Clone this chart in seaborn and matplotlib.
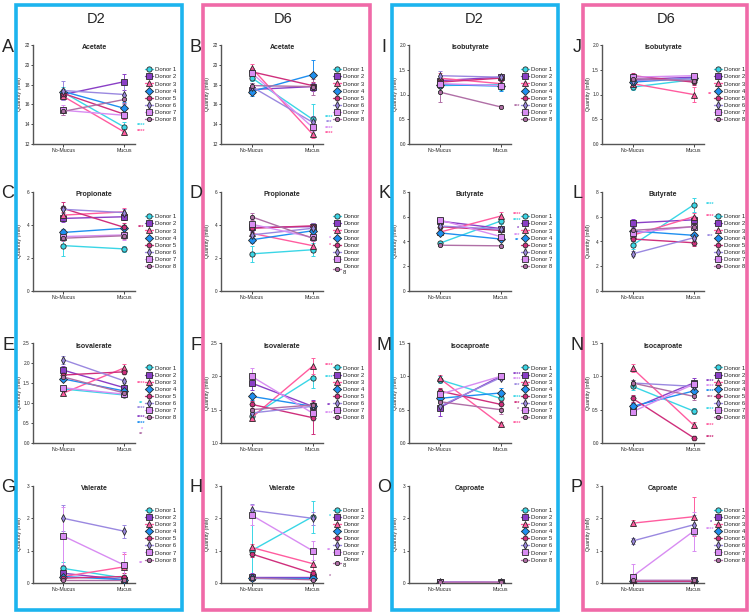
# ============================================================================================
# packages
# ============================================================================================
import pandas as pd
import numpy as np
import matplotlib.pyplot as plt
import seaborn as sns
from matplotlib.patches import Rectangle

# ============================================================================================
# data
# ============================================================================================
donors = ["Donor 1", "Donor 2", "Donor 3", "Donor 4", "Donor 5", "Donor 6", "Donor 7", "Donor 8"]
conditions = ["No-Mucus", "Mucus"]

# Acetate
acetate_d2_no = [17.2, 17.0, 16.8, 17.3, 17.1, 17.4, 15.4, 15.3]
acetate_d2_mu = [13.7, 18.3, 13.2, 15.6, 15.0, 17.0, 14.9, 16.5]
acetate_d2_no_err = [0.6, 0.5, 0.4, 0.3, 0.3, 1.0, 0.5, 0.4]
acetate_d2_mu_err = [0.5, 0.8, 0.3, 0.6, 0.5, 1.0, 0.3, 0.4]
acetate_d6_no = [18.7, 17.5, 19.7, 17.3, 19.3, 17.8, 19.2, 17.9]
acetate_d6_mu = [14.5, 17.8, 13.0, 19.0, 17.9, 14.2, 13.7, 17.8]
acetate_d6_no_err = [0.3, 0.4, 0.4, 0.5, 0.4, 0.4, 0.3, 0.3]
acetate_d6_mu_err = [1.5, 0.4, 0.4, 1.5, 0.4, 0.6, 0.4, 0.8]

# Propionate
propionate_d2_no = [2.75, 4.4, 4.6, 3.55, 5.0, 4.95, 3.3, 3.2]
propionate_d2_mu = [2.55, 4.5, 4.8, 3.8, 3.85, 4.75, 3.4, 3.35]
propionate_d2_no_err = [0.6, 0.2, 0.2, 0.2, 0.4, 0.2, 0.2, 0.2]
propionate_d2_mu_err = [0.2, 0.2, 0.2, 0.2, 0.3, 0.2, 0.3, 0.2]
propionate_d6_no = [2.25, 3.85, 3.5, 3.1, 3.8, 3.4, 4.05, 4.5]
propionate_d6_mu = [2.5, 3.9, 2.75, 3.65, 3.95, 3.8, 3.25, 3.2]
propionate_d6_no_err = [0.5, 0.2, 0.2, 0.2, 0.2, 0.2, 0.3, 0.2]
propionate_d6_mu_err = [0.4, 0.2, 0.4, 0.2, 0.2, 0.3, 0.2, 0.2]

# Isovalerate
isovalerate_d2_no = [1.35, 1.82, 1.25, 1.6, 1.7, 2.08, 1.38, 1.65]
isovalerate_d2_mu = [1.2, 1.38, 1.88, 1.3, 1.78, 1.55, 1.22, 1.25]
isovalerate_d2_no_err = [0.05, 0.1, 0.05, 0.05, 0.05, 0.1, 0.05, 0.05]
isovalerate_d2_mu_err = [0.05, 0.05, 0.1, 0.05, 0.05, 0.05, 0.05, 0.05]
isovalerate_d6_no = [1.4, 1.9, 1.38, 1.7, 1.58, 1.45, 2.0, 1.5]
isovalerate_d6_mu = [1.98, 1.55, 2.15, 1.55, 1.38, 1.55, 1.45, 1.57]
isovalerate_d6_no_err = [0.05, 0.1, 0.05, 0.05, 0.05, 0.05, 0.12, 0.05]
isovalerate_d6_mu_err = [0.15, 0.1, 0.12, 0.05, 0.25, 0.05, 0.05, 0.05]

# Valerate
valerate_d2_no = [0.45, 0.3, 0.2, 0.2, 0.15, 2.0, 1.45, 0.1]
valerate_d2_mu = [0.15, 0.1, 0.5, 0.1, 0.2, 1.6, 0.55, 0.1]
valerate_d2_no_err = [0.2, 0.1, 0.1, 0.1, 0.1, 0.4, 0.9, 0.1]
valerate_d2_mu_err = [0.1, 0.1, 0.4, 0.1, 0.1, 0.2, 0.4, 0.1]
valerate_d6_no = [1.0, 0.2, 1.1, 0.15, 0.9, 2.25, 2.1, 0.15]
valerate_d6_mu = [2.05, 0.2, 0.6, 0.15, 0.3, 2.0, 1.0, 0.1]
valerate_d6_no_err = [1.2, 0.1, 0.1, 0.1, 0.1, 0.2, 0.3, 0.1]
valerate_d6_mu_err = [0.5, 0.1, 0.3, 0.1, 0.1, 0.2, 0.3, 0.1]

# Isobutyrate
isobutyrate_d2_no = [1.18, 1.28, 1.33, 1.2, 1.25, 1.38, 1.22, 1.05]
isobutyrate_d2_mu = [1.2, 1.35, 1.22, 1.17, 1.33, 1.35, 1.18, 0.75]
isobutyrate_d2_no_err = [0.1, 0.05, 0.1, 0.05, 0.05, 0.1, 0.05, 0.2]
isobutyrate_d2_mu_err = [0.1, 0.05, 0.05, 0.1, 0.05, 0.05, 0.05, 0.03]
isobutyrate_d6_no = [1.15, 1.3, 1.22, 1.25, 1.38, 1.28, 1.35, 1.32]
isobutyrate_d6_mu = [1.3, 1.35, 1.0, 1.33, 1.25, 1.32, 1.38, 1.28]
isobutyrate_d6_no_err = [0.05, 0.05, 0.05, 0.05, 0.05, 0.05, 0.05, 0.05]
isobutyrate_d6_mu_err = [0.05, 0.05, 0.15, 0.05, 0.05, 0.05, 0.05, 0.05]

# Butyrate
butyrate_d2_no = [3.85, 5.65, 4.75, 4.7, 5.2, 5.25, 5.75, 3.7]
butyrate_d2_mu = [5.65, 5.05, 6.05, 4.2, 4.9, 5.0, 4.4, 3.65]
butyrate_d2_no_err = [0.1, 0.2, 0.2, 0.1, 0.1, 0.1, 0.2, 0.1]
butyrate_d2_mu_err = [0.2, 0.1, 0.3, 0.1, 0.1, 0.1, 0.1, 0.1]
butyrate_d6_no = [3.7, 5.5, 4.5, 4.85, 4.2, 3.0, 4.7, 4.9]
butyrate_d6_mu = [6.95, 5.75, 6.0, 4.5, 3.9, 4.3, 5.2, 5.2]
butyrate_d6_no_err = [0.3, 0.3, 0.2, 0.2, 0.2, 0.2, 0.3, 0.2]
butyrate_d6_mu_err = [0.6, 0.3, 0.3, 0.2, 0.3, 0.2, 0.2, 0.3]

# Isocaproate
isocaproate_d2_no = [0.95, 0.53, 0.97, 0.67, 0.78, 0.55, 0.73, 0.62]
isocaproate_d2_mu = [0.67, 1.0, 0.28, 0.75, 0.58, 0.98, 1.0, 0.5]
isocaproate_d2_no_err = [0.05, 0.13, 0.05, 0.05, 0.05, 0.05, 0.05, 0.05]
isocaproate_d2_mu_err = [0.05, 0.03, 0.03, 0.07, 0.05, 0.03, 0.03, 0.07]
isocaproate_d6_no = [0.85, 0.52, 1.12, 0.55, 0.67, 0.9, 0.47, 0.9]
isocaproate_d6_mu = [0.48, 0.9, 0.27, 0.78, 0.08, 0.85, 0.88, 0.7]
isocaproate_d6_no_err = [0.05, 0.08, 0.06, 0.05, 0.05, 0.05, 0.05, 0.05]
isocaproate_d6_mu_err = [0.05, 0.08, 0.05, 0.05, 0.03, 0.05, 0.05, 0.05]

# Caproate
caproate_d2_no = [0.02, 0.03, 0.02, 0.01, 0.02, 0.03, 0.02, 0.02]
caproate_d2_mu = [0.01, 0.02, 0.02, 0.01, 0.02, 0.02, 0.01, 0.02]
caproate_d2_no_err = [0.02, 0.02, 0.02, 0.02, 0.02, 0.02, 0.02, 0.02]
caproate_d2_mu_err = [0.02, 0.02, 0.02, 0.02, 0.02, 0.02, 0.02, 0.02]
caproate_d6_no = [0.05, 0.1, 1.85, 0.05, 0.05, 1.3, 0.2, 0.1]
caproate_d6_mu = [0.05, 0.1, 2.05, 0.05, 0.05, 1.8, 1.6, 0.1]
caproate_d6_no_err = [0.1, 0.1, 0.1, 0.1, 0.1, 0.1, 0.4, 0.1]
caproate_d6_mu_err = [0.1, 0.1, 0.6, 0.1, 0.1, 0.3, 0.6, 0.1]

# significance stars: (y, text, donor index)
stars_A = [(13.85, "****", 0), (13.25, "****", 2)]
stars_B = [(14.7, "****", 0), (14.15, "***", 5), (13.6, "****", 6), (13.05, "****", 2)]
stars_C = [(3.85, "***", 4)]
stars_D = [(3.2, "*", 6), (2.75, "*", 2)]
stars_E = [(1.5, "****", 2), (1.0, "**", 0), (0.86, "****", 5), (0.64, "****", 1),
           (0.49, "****", 3), (0.35, "*", 6), (0.22, "**", 7)]
stars_F = [(2.17, "****", 2), (1.98, "****", 0), (1.56, "**", 1), (1.45, "****", 6)]
stars_G = [(0.62, "**", 6)]
stars_H = [(2.05, "*", 0), (1.0, "**", 6), (0.2, "*", 7)]
stars_I = [(0.75, "***", 7)]
stars_J = [(1.0, "**", 2)]
stars_K = [(6.15, "****", 2), (5.68, "****", 0), (5.05, "*", 1), (4.5, "***", 6), (4.05, "**", 3)]
stars_L = [(7.0, "****", 0), (6.05, "****", 2), (4.4, "***", 5)]
stars_M = [(1.03, "****", 1), (0.95, "****", 6), (0.87, "***", 5), (0.68, "****", 0),
           (0.59, "***", 4), (0.5, "*", 7), (0.29, "****", 2)]
stars_N = [(0.93, "****", 1), (0.85, "****", 6), (0.77, "****", 3), (0.69, "***", 7),
           (0.5, "****", 0), (0.27, "****", 2), (0.09, "****", 4)]
stars_O = []
stars_P = [(1.88, "*", 1), (1.65, "****", 6)]

# ============================================================================================
# style
# ============================================================================================
sns.set_style("white")
plt.rcParams['font.family'] = ['Liberation Sans', 'DejaVu Sans']

colors = ["#3ad6e6", "#8a3fc6", "#ff5c9f", "#1f8ff0", "#cf2f7c", "#9a88e0", "#d88cf2", "#b06fa6"]
marks = ["o", "s", "^", "D", "H", "d", "s", "8"]
pal = dict(zip(donors, colors))
mk = dict(zip(donors, marks))

W, H = 750, 615
fig = plt.figure(figsize=(7.5, 6.15), dpi=100)

# column frames (pixels: left, right)
frames = [(16, 182, "#1cb4ee"), (203, 370, "#f06aa8"), (392, 558, "#1cb4ee"), (583, 747, "#f06aa8")]
for x0, x1, c in frames:
    fig.patches.append(Rectangle((x0 / W, 1 - 610 / H), (x1 - x0) / W, (610 - 5) / H,
                                 transform=fig.transFigure, fill=False, edgecolor=c, lw=2.6))

for xc, txt in [(96, "D2"), (283, "D6"), (474, "D2"), (666, "D6")]:
    fig.text(xc / W, 1 - 19 / H, txt, ha="center", va="center", fontsize=10.5)

col_left = [33, 221, 409, 602]
col_unit = [61, 61, 61, 61]
row_top = [45, 192, 343, 486]
row_bot = [144, 291, 443, 583]

panels = [
    # letter, col, row, title, no, mu, no_err, mu_err, ylim, yticks, stars
    ("A", 0, 0, "Acetate", acetate_d2_no, acetate_d2_mu, acetate_d2_no_err, acetate_d2_mu_err, (12, 22), [12, 14, 16, 18, 20, 22], stars_A),
    ("B", 1, 0, "Acetate", acetate_d6_no, acetate_d6_mu, acetate_d6_no_err, acetate_d6_mu_err, (12, 22), [12, 14, 16, 18, 20, 22], stars_B),
    ("I", 2, 0, "Isobutyrate", isobutyrate_d2_no, isobutyrate_d2_mu, isobutyrate_d2_no_err, isobutyrate_d2_mu_err, (0, 2), [0.0, 0.5, 1.0, 1.5, 2.0], stars_I),
    ("J", 3, 0, "Isobutyrate", isobutyrate_d6_no, isobutyrate_d6_mu, isobutyrate_d6_no_err, isobutyrate_d6_mu_err, (0, 2), [0.0, 0.5, 1.0, 1.5, 2.0], stars_J),
    ("C", 0, 1, "Propionate", propionate_d2_no, propionate_d2_mu, propionate_d2_no_err, propionate_d2_mu_err, (0, 6), [0, 2, 4, 6], stars_C),
    ("D", 1, 1, "Propionate", propionate_d6_no, propionate_d6_mu, propionate_d6_no_err, propionate_d6_mu_err, (0, 6), [0, 2, 4, 6], stars_D),
    ("K", 2, 1, "Butyrate", butyrate_d2_no, butyrate_d2_mu, butyrate_d2_no_err, butyrate_d2_mu_err, (0, 8), [0, 2, 4, 6, 8], stars_K),
    ("L", 3, 1, "Butyrate", butyrate_d6_no, butyrate_d6_mu, butyrate_d6_no_err, butyrate_d6_mu_err, (0, 8), [0, 2, 4, 6, 8], stars_L),
    ("E", 0, 2, "Isovalerate", isovalerate_d2_no, isovalerate_d2_mu, isovalerate_d2_no_err, isovalerate_d2_mu_err, (0, 2.5), [0.0, 0.5, 1.0, 1.5, 2.0, 2.5], stars_E),
    ("F", 1, 2, "Isovalerate", isovalerate_d6_no, isovalerate_d6_mu, isovalerate_d6_no_err, isovalerate_d6_mu_err, (1.0, 2.5), [1.0, 1.5, 2.0, 2.5], stars_F),
    ("M", 2, 2, "Isocaproate", isocaproate_d2_no, isocaproate_d2_mu, isocaproate_d2_no_err, isocaproate_d2_mu_err, (0, 1.5), [0.0, 0.5, 1.0, 1.5], stars_M),
    ("N", 3, 2, "Isocaproate", isocaproate_d6_no, isocaproate_d6_mu, isocaproate_d6_no_err, isocaproate_d6_mu_err, (0, 1.5), [0.0, 0.5, 1.0, 1.5], stars_N),
    ("G", 0, 3, "Valerate", valerate_d2_no, valerate_d2_mu, valerate_d2_no_err, valerate_d2_mu_err, (0, 3), [0, 1, 2, 3], stars_G),
    ("H", 1, 3, "Valerate", valerate_d6_no, valerate_d6_mu, valerate_d6_no_err, valerate_d6_mu_err, (0, 3), [0, 1, 2, 3], stars_H),
    ("O", 2, 3, "Caproate", caproate_d2_no, caproate_d2_mu, caproate_d2_no_err, caproate_d2_mu_err, (0, 3), [0, 1, 2, 3], stars_O),
    ("P", 3, 3, "Caproate", caproate_d6_no, caproate_d6_mu, caproate_d6_no_err, caproate_d6_mu_err, (0, 3), [0, 1, 2, 3], stars_P),
]

# odd legend labels in the original
legend_labels = {
    "D": ["Donor", "Donor", "Donor", "Donor", "Donor", "Donor", "Donor", "Donor\n8"],
    "H": ["Donor 1", "Donor 2", "Donor", "Donor", "Donor", "Donor", "Donor 7", "Donor\n8"],
}

# ============================================================================================
# draw
# ============================================================================================
for letter, c, r, title, no, mu, no_err, mu_err, ylim, yticks, stars in panels:
    left = col_left[c]
    unit = col_unit[c]
    width = unit * 1.68
    ax = fig.add_axes([left / W, 1 - row_bot[r] / H, width / W, (row_bot[r] - row_top[r]) / H])

    df = pd.DataFrame({
        "Donor": donors + donors,
        "cond": [0] * len(donors) + [1] * len(donors),
        "val": no + mu,
        "err": no_err + mu_err,
    })

    for i, d in enumerate(donors):
        sub = df[df["Donor"] == d]
        ax.errorbar(sub["cond"], sub["val"], yerr=sub["err"], fmt="none", ecolor=colors[i],
                    elinewidth=0.7, capsize=1.6, capthick=0.7, zorder=1)

    sns.lineplot(data=df, x="cond", y="val", hue="Donor", style="Donor", palette=pal,
                 markers=mk, dashes=False, errorbar=None, ax=ax, linewidth=1.0,
                 markersize=3.8, markeredgecolor="#2a2a2a", markeredgewidth=0.6, legend="full", zorder=3)

    sns.move_legend(ax, "upper left", bbox_to_anchor=(1.07, 0.8), frameon=False, title=None,
                    fontsize=4.3, labelspacing=0.32, handlelength=1.3, handletextpad=0.4, borderaxespad=0)
    if letter in legend_labels:
        for t, lab in zip(ax.get_legend().get_texts(), legend_labels[letter]):
            t.set_text(lab)

    ax.set_xlim(-0.5, 1.18)
    ax.set_ylim(*ylim)
    ax.set_yticks(yticks)
    if isinstance(yticks[1], float):
        ax.set_yticklabels([f"{v:.1f}" for v in yticks])
    ax.set_xticks([0, 1])
    ax.set_xticklabels(conditions)
    ax.set_xlabel("")
    ax.set_ylabel("Quantity (mM)", fontsize=3.8)
    ax.yaxis.set_label_coords(-0.112, 0.5)
    ax.tick_params(axis="y", labelsize=3.4, length=1.5, width=0.6, pad=0.8, left=True)
    ax.tick_params(axis="x", labelsize=3.8, length=2, width=0.6, pad=1.2, bottom=True)
    for s in ["top", "right"]:
        ax.spines[s].set_visible(False)
    for s in ["left", "bottom"]:
        ax.spines[s].set_color("#555555")
        ax.spines[s].set_linewidth(1.0)

    ax.text(0.5, 0.97, title, transform=ax.get_xaxis_transform(), ha="center", va="center",
            fontsize=5, fontweight="bold")

    for y, txt, di in stars:
        ax.text(1.28, y, txt, color=colors[di], fontsize=4, fontweight="bold",
                ha="center", va="center", clip_on=False)

    fig.text((left - 25) / W, 1 - (row_top[r] + 2) / H, letter, ha="center", va="center", fontsize=13)

plt.savefig("out.png", dpi=100)
